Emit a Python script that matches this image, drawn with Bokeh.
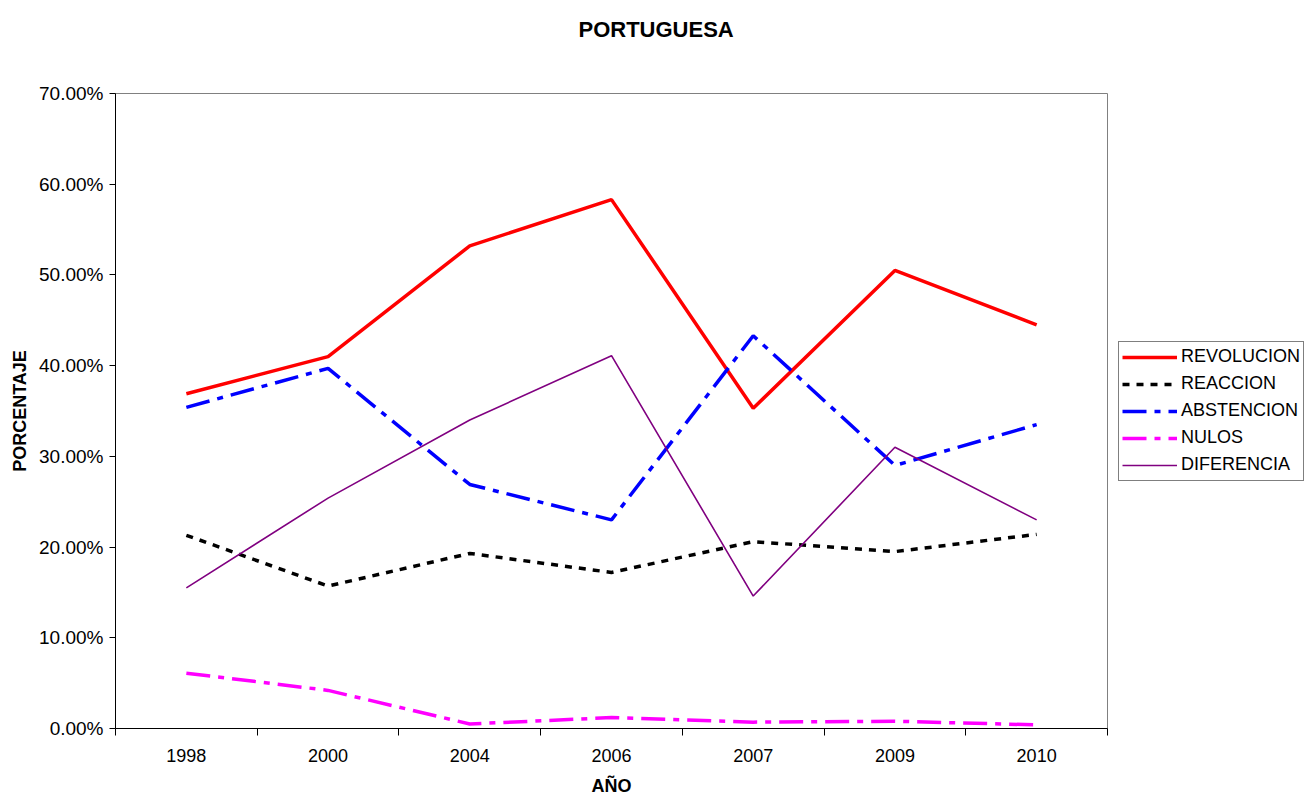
from bokeh.plotting import figure
from bokeh.models import Range1d, FixedTicker, NumeralTickFormatter, Legend, LegendItem, Title
from bokeh.embed import file_html
from bokeh.resources import INLINE

years = ["1998", "2000", "2004", "2006", "2007", "2009", "2010"]
revolucion = [36.9, 41.0, 53.2, 58.3, 35.3, 50.5, 44.5]
reaccion = [21.3, 15.7, 19.3, 17.2, 20.6, 19.5, 21.4]
abstencion = [35.4, 39.7, 26.9, 23.0, 43.3, 29.0, 33.5]
nulos = [6.1, 4.2, 0.5, 1.2, 0.7, 0.8, 0.4]
diferencia = [15.5, 25.4, 34.0, 41.1, 14.6, 31.0, 23.0]
y_ticks = [0, 10, 20, 30, 40, 50, 60, 70]

FONT = "Liberation Sans"

n = len(years)
xc = [i + 0.5 for i in range(n)]

p = figure(frame_width=992, frame_height=635, x_range=Range1d(0, n), y_range=Range1d(0, 0.70),
           output_backend="svg", toolbar_location=None,
           min_border_left=115, min_border_right=0, min_border_top=93, min_border_bottom=67)
p.background_fill_color = "white"
p.border_fill_color = "white"
p.outline_line_color = "#808080"
p.outline_line_width = 1
p.xgrid.visible = False
p.ygrid.visible = False
p.title.visible = False

# spacer between frame and title, then the title itself (outermost)
spacer = Title(text=" ", text_font=FONT, text_font_size="20px", standoff=28)
p.add_layout(spacer, "above")
main_title = Title(text="PORTUGUESA", text_font=FONT, text_font_size="22px",
                   text_font_style="bold", text_color="black", align="left",
                   offset=463, standoff=0)
p.add_layout(main_title, "above")

# x axis
p.xaxis.ticker = FixedTicker(ticks=xc, minor_ticks=list(range(n + 1)))
p.xaxis.major_label_overrides = {x: y for x, y in zip(xc, years)}
p.xaxis.major_tick_out = 0
p.xaxis.major_tick_in = 0
p.xaxis.minor_tick_out = 7
p.xaxis.minor_tick_in = 0
p.xaxis.minor_tick_line_color = "black"
p.xaxis.axis_line_color = "black"
p.xaxis.major_label_text_font = FONT
p.xaxis.major_label_text_font_size = "18px"
p.xaxis.major_label_text_color = "black"
p.xaxis.major_label_standoff = 13
p.xaxis.axis_label = "AÑO"
p.xaxis.axis_label_text_font = FONT
p.xaxis.axis_label_text_font_size = "18px"
p.xaxis.axis_label_text_font_style = "bold"
p.xaxis.axis_label_text_color = "black"
p.xaxis.axis_label_standoff = 11

# y axis
p.yaxis.ticker = FixedTicker(ticks=[t / 100 for t in y_ticks])
p.yaxis.formatter = NumeralTickFormatter(format="0.00%")
p.yaxis.major_tick_out = 6
p.yaxis.major_tick_in = 0
p.yaxis.minor_tick_out = 0
p.yaxis.minor_tick_in = 0
p.yaxis.major_tick_line_color = "black"
p.yaxis.axis_line_color = "black"
p.yaxis.major_label_text_font = FONT
p.yaxis.major_label_text_font_size = "19px"
p.yaxis.major_label_text_color = "black"
p.yaxis.major_label_standoff = 6
p.yaxis.axis_label = "PORCENTAJE"
p.yaxis.axis_label_text_font = FONT
p.yaxis.axis_label_text_font_size = "18px"
p.yaxis.axis_label_text_font_style = "bold"
p.yaxis.axis_label_text_color = "black"
p.yaxis.axis_label_standoff = 6

def frac(v):
    return [a / 100 for a in v]

r1 = p.line(xc, frac(revolucion), line_color="#FF0000", line_width=3.5)
r2 = p.line(xc, frac(reaccion), line_color="black", line_width=3.5, line_dash="7 7")
r3 = p.line(xc, frac(abstencion), line_color="#0000FF", line_width=3.5, line_dash="24 8 6 8")
r4 = p.line(xc, frac(nulos), line_color="#FF00FF", line_width=3.5, line_dash="24 8 6 8")
r5 = p.line(xc, frac(diferencia), line_color="#800080", line_width=1.6)

legend = Legend(items=[
    LegendItem(label="REVOLUCION", renderers=[r1]),
    LegendItem(label="REACCION", renderers=[r2]),
    LegendItem(label="ABSTENCION", renderers=[r3]),
    LegendItem(label="NULOS", renderers=[r4]),
    LegendItem(label="DIFERENCIA", renderers=[r5]),
], location="left")
legend.label_text_font = FONT
legend.label_text_font_size = "18px"
legend.label_text_color = "black"
legend.glyph_width = 55
legend.glyph_height = 24
legend.label_height = 24
legend.spacing = 3
legend.padding = 3
legend.margin = 11
legend.label_standoff = 4
legend.border_line_color = "black"
legend.border_line_width = 1
legend.background_fill_color = "white"
legend.background_fill_alpha = 1
p.add_layout(legend, "right")

open("out.html", "w").write(file_html(p, INLINE))
